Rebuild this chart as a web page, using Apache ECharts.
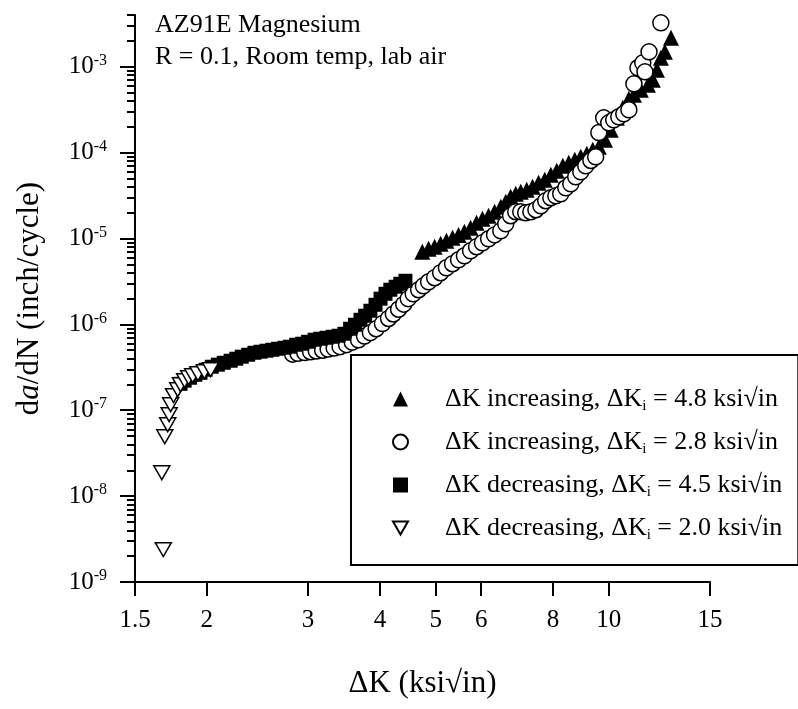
<!DOCTYPE html>
<html><head><meta charset="utf-8">
<script src="https://cdn.jsdelivr.net/npm/echarts@6/dist/echarts.min.js"></script>
<style>html,body{margin:0;padding:0;background:#fff}#c{width:798px;height:709px}</style>
</head><body><div id="c"></div>
<script>
const FONT = '"Liberation Serif","Times New Roman",serif';
const xTicks = [1.5, 2, 3, 4, 5, 6, 8, 10, 15];
const yMajor = [1e-9, 1e-8, 1e-7, 1e-6, 1e-5, 1e-4, 1e-3];
const yMinorMult = [2, 3, 4, 5, 6, 7, 8, 9];
const seriesNames = [
  'ΔK increasing, ΔKi = 4.8 ksi√in',
  'ΔK increasing, ΔKi = 2.8 ksi√in',
  'ΔK decreasing, ΔKi = 4.5 ksi√in',
  'ΔK decreasing, ΔKi = 2.0 ksi√in'
];
const legendLabels = [
  ['ΔK increasing, ΔK', 'i', ' = 4.8 ksi√in'],
  ['ΔK increasing, ΔK', 'i', ' = 2.8 ksi√in'],
  ['ΔK decreasing, ΔK', 'i', ' = 4.5 ksi√in'],
  ['ΔK decreasing, ΔK', 'i', ' = 2.0 ksi√in']
];
// ΔK increasing, ΔKi = 4.8 (filled triangles)
const incHigh = [[4.74,7.00e-6],[4.86,7.59e-6],[4.98,8.01e-6],[5.10,8.68e-6],[5.22,9.40e-6],[5.35,1.02e-5],[5.48,1.10e-5],[5.61,1.20e-5],[5.75,1.33e-5],[5.89,1.52e-5],[6.03,1.70e-5],[6.18,1.84e-5],[6.33,2.05e-5],[6.49,2.34e-5],[6.62,2.67e-5],[6.75,3.06e-5],[6.89,3.31e-5],[7.03,3.50e-5],[7.20,3.69e-5],[7.37,4.00e-5],[7.55,4.45e-5],[7.74,4.82e-5],[7.93,5.51e-5],[8.12,6.14e-5],[8.32,7.02e-5],[8.52,7.61e-5],[8.73,8.24e-5],[8.94,8.94e-5],[9.16,9.68e-5],[9.38,1.08e-4],[9.61,1.17e-4],[9.85,1.41e-4],[10.08,1.84e-4],[10.33,2.54e-4],[10.58,3.32e-4],[10.84,4.23e-4],[11.06,4.71e-4],[11.37,5.38e-4],[11.70,6.16e-4],[11.93,7.04e-4],[12.13,9.20e-4],[12.32,1.27e-3],[12.52,1.49e-3],[12.83,2.17e-3]];
// ΔK increasing, ΔKi = 2.8 (open circles)
const incLow = [[2.82,4.5e-7],[2.88,4.6e-7],[2.96,4.7e-7],[3.03,4.8e-7],[3.10,4.9e-7],[3.18,5.0e-7],[3.25,5.15e-7],[3.33,5.3e-7],[3.41,5.5e-7],[3.50,5.8e-7],[3.58,6.2e-7],[3.67,6.6e-7],[3.76,7.3e-7],[3.85,8.0e-7],[3.94,8.9e-7],[4.04,1.02e-6],[4.14,1.17e-6],[4.22,1.32e-6],[4.31,1.50e-6],[4.40,1.72e-6],[4.48,1.99e-6],[4.57,2.27e-6],[4.67,2.53e-6],[4.76,2.81e-6],[4.86,3.13e-6],[4.98,3.49e-6],[5.10,3.99e-6],[5.22,4.56e-6],[5.35,5.08e-6],[5.48,5.65e-6],[5.61,6.29e-6],[5.75,7.19e-6],[5.89,8.01e-6],[6.03,8.91e-6],[6.18,9.92e-6],[6.33,1.10e-5],[6.49,1.23e-5],[6.62,1.48e-5],[6.75,1.84e-5],[6.89,2.05e-5],[7.03,2.05e-5],[7.17,1.99e-5],[7.32,2.05e-5],[7.47,2.16e-5],[7.62,2.40e-5],[7.77,2.75e-5],[7.93,2.98e-5],[8.09,3.14e-5],[8.25,3.31e-5],[8.42,3.89e-5],[8.59,4.33e-5],[8.76,5.23e-5],[8.94,5.98e-5],[9.12,7.02e-5],[9.31,8.09e-5],[9.49,8.94e-5],[9.61,1.71e-4],[9.80,2.54e-4],[10.00,2.22e-4],[10.20,2.41e-4],[10.41,2.61e-4],[10.62,2.83e-4],[10.84,3.15e-4],[11.06,6.32e-4],[11.24,9.71e-4],[11.46,1.11e-3],[11.56,8.72e-4],[11.75,1.49e-3],[12.32,3.24e-3]];
// ΔK decreasing, ΔKi = 4.5 (filled squares)
const decHigh = [[1.80,2.03e-7],[1.83,2.21e-7],[1.87,2.39e-7],[1.91,2.59e-7],[1.95,2.73e-7],[1.99,2.96e-7],[2.04,3.21e-7],[2.09,3.39e-7],[2.14,3.57e-7],[2.20,3.77e-7],[2.25,3.98e-7],[2.30,4.20e-7],[2.36,4.43e-7],[2.42,4.67e-7],[2.48,4.80e-7],[2.54,4.93e-7],[2.60,5.06e-7],[2.66,5.20e-7],[2.73,5.34e-7],[2.79,5.49e-7],[2.86,5.79e-7],[2.93,5.95e-7],[3.00,6.27e-7],[3.08,6.62e-7],[3.15,6.80e-7],[3.23,6.98e-7],[3.31,7.17e-7],[3.39,7.37e-7],[3.47,7.77e-7],[3.55,8.89e-7],[3.62,9.89e-7],[3.70,1.13e-6],[3.77,1.26e-6],[3.85,1.44e-6],[3.93,1.69e-6],[4.01,1.99e-6],[4.09,2.27e-6],[4.17,2.53e-6],[4.26,2.74e-6],[4.34,2.97e-6],[4.43,3.22e-6]];
// ΔK decreasing, ΔKi = 2.0 (open down triangles)
const decLow = [[1.68,2.38e-9],[1.67,1.87e-8],[1.69,4.91e-8],[1.71,6.78e-8],[1.72,8.87e-8],[1.73,1.16e-7],[1.75,1.48e-7],[1.78,1.73e-7],[1.80,1.98e-7],[1.83,2.21e-7],[1.86,2.39e-7],[1.89,2.52e-7],[1.93,2.66e-7],[1.98,2.81e-7],[2.03,2.96e-7]];

const yMinor = [];
for (let e = -9; e <= -3; e++) for (const m of yMinorMult) { const v = m * Math.pow(10, e); if (v <= 4e-3 * 1.0001) yMinor.push(v); }

const DOWN_TRI = 'path://M0,0L20,0L10,17.32Z';
const chart = echarts.init(document.getElementById('c'), null, {renderer: 'canvas'});
const black = '#000';
const legendRich = {
  sp: {width: 32, fontSize: 26, lineHeight: 30},
  t: {fontFamily: FONT, fontSize: 26, lineHeight: 30, color: black},
  s: {fontFamily: FONT, fontSize: 15, lineHeight: 10, verticalAlign: 'bottom', color: black}
};
chart.setOption({
  animation: false,
  backgroundColor: '#fff',
  textStyle: {fontFamily: FONT, color: black},
  grid: {left: 135, right: 88, top: 15, bottom: 127, containLabel: false},
  xAxis: {
    type: 'log', logBase: 10, min: 1.5, max: 15,
    name: 'ΔK (ksi√in)', nameLocation: 'middle', nameGap: 86,
    nameTextStyle: {fontFamily: FONT, fontSize: 31, color: black},
    axisLine: {show: true, onZero: false, lineStyle: {color: black, width: 2}},
    axisTick: {show: true, inside: false, length: 14, lineStyle: {color: black, width: 2}, customValues: xTicks},
    axisLabel: {margin: 26, fontFamily: FONT, fontSize: 25, color: black, customValues: xTicks, formatter: v => String(+v.toFixed(2))},
    minorTick: {show: false}, splitLine: {show: false}
  },
  yAxis: [{
    type: 'log', logBase: 10, min: 1e-9, max: 4e-3,
    name: '{n|d}{it|a}{n|/dN (inch/cycle)}', nameLocation: 'middle', nameGap: 90,
    nameTextStyle: {fontFamily: FONT, fontSize: 31, color: black, rich: {
      n: {fontFamily: FONT, fontSize: 31, color: black}, it: {fontFamily: FONT, fontSize: 31, fontStyle: 'italic', color: black}}},
    axisLine: {show: true, onZero: false, lineStyle: {color: black, width: 2}},
    axisTick: {show: true, inside: false, length: 15, lineStyle: {color: black, width: 2}, customValues: yMajor},
    axisLabel: {margin: 28, customValues: yMajor, formatter: v => '{b|10}{e|' + Math.round(Math.log10(v)) + '}',
      rich: {b: {fontFamily: FONT, fontSize: 25, lineHeight: 28, color: black},
             e: {fontFamily: FONT, fontSize: 16, lineHeight: 20, verticalAlign: 'top', color: black}}},
    splitLine: {show: false}, minorTick: {show: false}
  }, {
    type: 'log', logBase: 10, min: 1e-9, max: 4e-3, position: 'left',
    axisLine: {show: false},
    axisTick: {show: true, inside: false, length: 8, lineStyle: {color: black, width: 2}, customValues: yMinor},
    axisLabel: {show: false}, splitLine: {show: false}
  }],
  legend: {
    orient: 'vertical', left: 351, top: 355,
    padding: [31, 16, 22, 41], itemGap: 15, itemWidth: 15, itemHeight: 15,
    symbolKeepAspect: true,
    borderColor: black, borderWidth: 2, borderRadius: 0,
    data: seriesNames,
    formatter: name => { const l = legendLabels[seriesNames.indexOf(name)]; return '{sp|}{t|' + l[0] + '}{s|' + l[1] + '}{t|' + l[2] + '}'; },
    textStyle: {fontFamily: FONT, fontSize: 26, color: black, rich: legendRich}
  },
  graphic: [{
    type: 'text', left: 155, top: 9,
    style: {text: 'AZ91E Magnesium\nR = 0.1, Room temp, lab air', font: '26px ' + FONT, lineHeight: 32, fill: black}
  }],
  series: [
    {name: seriesNames[0], type: 'scatter', data: incHigh, symbol: 'triangle', symbolSize: 16, z: 2,
     itemStyle: {color: black, opacity: 1}},
    {name: seriesNames[1], type: 'scatter', data: incLow, symbol: 'circle', symbolSize: 16, z: 3,
     itemStyle: {color: '#fff', borderColor: black, borderWidth: 1.5, opacity: 1}},
    {name: seriesNames[2], type: 'scatter', data: decHigh, symbol: 'rect', symbolSize: 14, z: 4,
     itemStyle: {color: black, opacity: 1}},
    {name: seriesNames[3], type: 'scatter', data: decLow, symbol: DOWN_TRI, symbolKeepAspect: true, symbolSize: 16, z: 5,
     itemStyle: {color: '#fff', borderColor: black, borderWidth: 1.5, opacity: 1}}
  ]
});
</script></body></html>
